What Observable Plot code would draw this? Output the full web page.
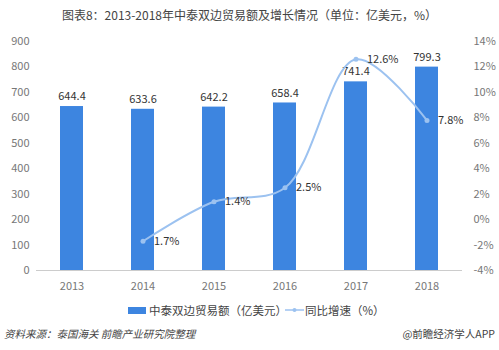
<!DOCTYPE html>
<html>
<head>
<meta charset="utf-8">
<script src="https://cdn.jsdelivr.net/npm/d3@7"></script>
<script src="https://cdn.jsdelivr.net/npm/@observablehq/plot@0.6"></script>
<style>
  body { margin: 0; background: #fff; font-family: "Noto Sans CJK SC", "Noto Sans", sans-serif; }
  #wrap { width: 499px; height: 350px; position: relative; overflow: hidden; }
  #title { position: absolute; top: 6px; left: 0; width: 499px; text-align: center; font-size: 12px; color: #444; }
  #chart { position: absolute; top: 30px; left: 0; }
  #legend { position: absolute; top: 302px; left: 0; width: 499px; font-size: 11.5px; color: #444; }
  .lg { position: absolute; display: flex; align-items: center; white-space: nowrap; }
  #source { position: absolute; top: 326px; left: 4px; font-size: 10.5px; color: #444; font-style: italic; }
  #brand { position: absolute; top: 326px; right: 4px; font-size: 10.5px; color: #444; }
</style>
</head>
<body>
<div id="wrap">
  <div id="title">图表8：2013-2018年中泰双边贸易额及增长情况（单位：亿美元，%）</div>
  <div id="chart"></div>
  <div id="legend">
    <div class="lg" style="left:128px;"><span style="display:inline-block;width:18px;height:7px;background:#3d85e0;margin-right:3px;"></span>中泰双边贸易额（亿美元）</div>
    <div class="lg" style="left:285px;"><svg width="19" height="8" style="margin-right:1px;"><line x1="0" y1="4" x2="19" y2="4" stroke="#9cc2f0" stroke-width="1.5"/><circle cx="9.5" cy="4" r="2" fill="#9cc2f0"/></svg>同比增速（%）</div>
  </div>
  <div id="source">资料来源：泰国海关 前瞻产业研究院整理</div>
  <div id="brand">@前瞻经济学人APP</div>
</div>
<script>
const years = ["2013", "2014", "2015", "2016", "2017", "2018"];
const trade = [644.4, 633.6, 642.2, 658.4, 741.4, 799.3];
const growthYears = ["2014", "2015", "2016", "2017", "2018"];
const growth = [-1.7, 1.4, 2.5, 12.6, 7.8];
const growthLabels = ["1.7%", "1.4%", "2.5%", "12.6%", "7.8%"];
const leftTicks = [0, 100, 200, 300, 400, 500, 600, 700, 800, 900];
const rightTicks = [-4, -2, 0, 2, 4, 6, 8, 10, 12, 14];

const toLeft = p => (p + 4) * 50; // map % onto 0..900 axis

const bars = years.map((y, i) => ({year: y, value: trade[i]}));
const line = growthYears.map((y, i) => ({year: y, value: toLeft(growth[i]), label: growthLabels[i]}));

const font = "Noto Sans CJK SC, Noto Sans, sans-serif";

const chart = Plot.plot({
  width: 499,
  height: 266,
  marginTop: 11,
  marginBottom: 26,
  marginLeft: 36,
  marginRight: 37,
  style: {fontFamily: font, fontSize: "11px", color: "#555", background: "transparent"},
  x: {type: "band", domain: years, padding: 0.68, align: 0.5, paddingOuter: 0.34},
  y: {domain: [0, 900]},
  marks: [
    Plot.axisY(leftTicks, {anchor: "left", tickSize: 0, tickPadding: 7, label: null, fill: "#777", fontSize: 11}),
    Plot.axisY(rightTicks.map(toLeft), {anchor: "right", tickSize: 0, tickPadding: 11, label: null, fill: "#777", fontSize: 11,
      tickFormat: d => Math.round(d / 50 - 4) + "%"}),
    Plot.axisX({anchor: "bottom", tickSize: 0, tickPadding: 12, label: null, fill: "#777", fontSize: 11}),
    Plot.ruleY([0], {stroke: "#ccc", strokeWidth: 1}),
    Plot.barY(bars, {x: "year", y: "value", fill: "#3d85e0"}),
    Plot.text(bars, {x: "year", y: "value", text: d => d.value.toFixed(1), dy: -10, fill: "#333", fontSize: 11}),
    Plot.line(line, {x: "year", y: "value", stroke: "#9cc2f0", strokeWidth: 2, curve: "catmull-rom"}),
    Plot.dot(line, {x: "year", y: "value", r: 2.5, fill: "#9cc2f0"}),
    Plot.text(line, {x: "year", y: "value", text: "label", dx: 11, textAnchor: "start", fill: "#333", fontSize: 11})
  ]
});
document.getElementById("chart").appendChild(chart);
</script>
</body>
</html>
